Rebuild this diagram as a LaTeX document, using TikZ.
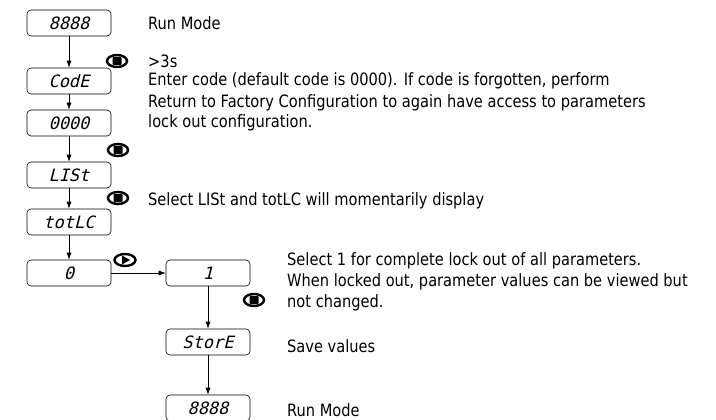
\documentclass[tikz,border=0pt]{standalone}
\usepackage{fontspec}
\setmainfont[FakeStretch=0.86]{DejaVu Sans}
\newfontfamily\segfont[FakeSlant=0.25]{DejaVu Sans Mono}
\usetikzlibrary{shapes.geometric}
\usetikzlibrary{arrows.meta}

\begin{document}
\begin{tikzpicture}[x=1pt, y=-1pt,
  display/.style={draw, line width=0.6pt, rounded corners=4pt, minimum width=84pt, minimum height=26pt, inner sep=0pt, font=\segfont\fontsize{17}{17}\selectfont},
  flow/.style={-{Latex[length=7pt,width=5pt]}, line width=0.6pt},
  note/.style={anchor=base west, inner sep=0pt, font=\fontsize{17}{21}\selectfont},
  keyring/.style={ellipse, draw, line width=2.4pt, minimum width=20pt, minimum height=12pt, inner sep=0pt},
  keyenter/.style={keyring, path picture={\fill[rounded corners=0.8pt] ([shift={(-4.5pt,-4pt)}]path picture bounding box.center) rectangle ([shift={(4.5pt,4pt)}]path picture bounding box.center);}},
  keyplay/.style={keyring, minimum width=21pt, path picture={\fill ([shift={(-3pt,-4.5pt)}]path picture bounding box.center) -- ([shift={(5pt,0pt)}]path picture bounding box.center) -- ([shift={(-3pt,4.5pt)}]path picture bounding box.center) -- cycle;}}]

\useasboundingbox (0,0) rectangle (716,420);

% left column
  \node[display] (runA) at (69,23) {8888};
  \node[display] (code) at (69,81) {CodE};
  \node[display] (zeros) at (69,123) {0000};
  \node[display] (list) at (69,175) {LISt};
  \node[display] (totlc) at (69,222) {totLC};
  \node[display] (zero) at (69,273) {0};

% right column
  \node[display] (one) at (208,273) {1};
  \node[display] (store) at (208,342) {StorE};
  \node[display] (runB) at (208,408) {8888};

% keys
  \node[keyenter] (keyA) at (117,61) {};
  \node[keyenter] (keyB) at (118,150) {};
  \node[keyenter] (keyC) at (118,198) {};
  \node[keyplay] (keyP) at (125,260) {};
  \node[keyenter] (keyD) at (254,300) {};

% arrows
  \draw[flow] (runA) -- (code);
  \draw[flow] (code) -- (zeros);
  \draw[flow] (zeros) -- (list);
  \draw[flow] (list) -- (totlc);
  \draw[flow] (totlc) -- (zero);
  \draw[flow] (zero) -- (one);
  \draw[flow] (one) -- (store);
  \draw[flow] (store) -- (runB);

% notes
  \node[note] (txtRunA) at (148,30) {Run Mode};
  \node[note] (txtHold) at (148,68) {>3s};
  \node[note] (txtCodeA) at (148,86) {Enter code (default code is 0000). If code is forgotten, perform};
  \node[note] (txtCodeB) at (148,107) {Return to Factory Configuration to again have access to parameters};
  \node[note] (txtCodeC) at (148,128) {lock out configuration.};
  \node[note] (txtList) at (148,205) {Select LISt and totLC will momentarily display};
  \node[note] (txtOneA) at (287,265) {Select 1 for complete lock out of all parameters.};
  \node[note] (txtOneB) at (287,286) {When locked out, parameter values can be viewed but};
  \node[note] (txtOneC) at (287,307) {not changed.};
  \node[note] (txtStore) at (287,352) {Save values};
  \node[note] (txtRunB) at (287,416) {Run Mode};

\end{tikzpicture}
\end{document}
